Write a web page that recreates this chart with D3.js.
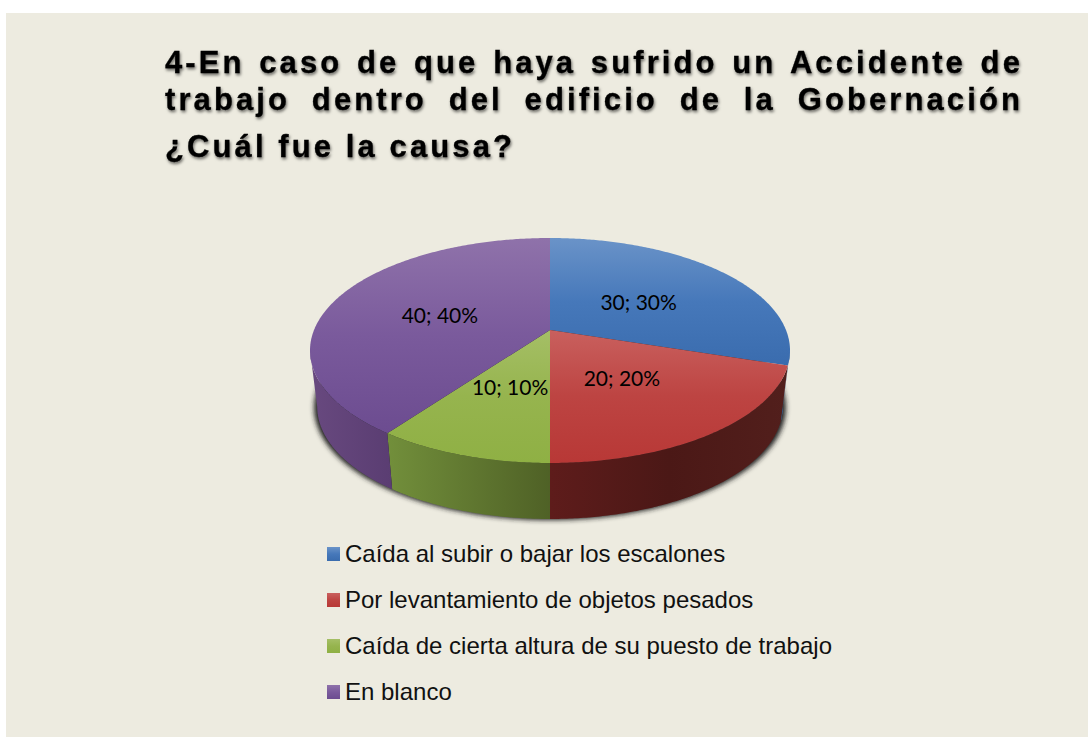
<!DOCTYPE html>
<html>
<head>
<meta charset="utf-8">
<script src="https://cdnjs.cloudflare.com/ajax/libs/d3/7.8.5/d3.min.js"></script>
<style>
html, body { margin: 0; padding: 0; background: #fff; overflow: hidden; }
svg { display: block; }
</style>
</head>
<body>
<div id="chart"></div>
<script>
const categories = [
  "Caída al subir o bajar los escalones",
  "Por levantamiento de objetos pesados",
  "Caída de cierta altura de su puesto de trabajo",
  "En blanco"
];
const values = [30, 20, 10, 40];
const percents = [30, 20, 10, 40];
const titleLines = [
  "4-En caso de que haya sufrido un Accidente de",
  "trabajo dentro del edificio de la Gobernación",
  "¿Cuál fue la causa?"
];
const topColors = [
  ["#6a93c8", "#4678ba", "#3a6cae"],
  ["#c9605e", "#bd4442", "#b83836"],
  ["#a5bf66", "#96b44e", "#8fb044"],
  ["#8f72aa", "#7a5a9c", "#6c4c90"]
];
const wallColors = [["#3a6cae", "#2c5488"], ["#5e1c1b", "#4b1816", "#521f1c"], ["#728f3b", "#4f6126"], ["#68497f", "#5a3d72"]];

const width = 1088, height = 737;

const svg = d3.select("#chart").append("svg")
  .attr("width", width).attr("height", height);
const defs = svg.append("defs");

svg.append("rect").attr("x", 6).attr("y", 13)
  .attr("width", width - 6).attr("height", height - 13)
  .attr("fill", "#edebe0");

// title, justified by hand with word spacing
const titleShadow = defs.append("filter").attr("id", "titleShadow")
  .attr("x", "-5%").attr("y", "-30%").attr("width", "110%").attr("height", "170%");
titleShadow.append("feDropShadow").attr("dx", 1).attr("dy", 2)
  .attr("stdDeviation", 1.4).attr("flood-color", "#000").attr("flood-opacity", 0.55);

const titleY = [73, 110, 157];
const title = svg.selectAll(".title").data(titleLines).enter().append("text")
  .attr("class", "title")
  .attr("x", 165)
  .attr("y", (d, i) => titleY[i])
  .attr("filter", "url(#titleShadow)")
  .style("font-family", "'Liberation Sans', Arial, sans-serif")
  .style("font-weight", "bold")
  .style("font-size", "31px")
  .style("letter-spacing", "3.1px")
  .attr("fill", "#000")
  .attr("stroke", "#000")
  .attr("stroke-width", 0.3)
  .text(d => d);
title.each(function(d, i) {
  if (i == 2) return;
  const gaps = d.split(" ").length - 1;
  const extra = (1023 - 165 - this.getComputedTextLength()) / gaps;
  d3.select(this).style("word-spacing", extra + "px");
});

// the pie is a flat circle seen in perspective, so the apex sits above the ellipse centre
const cx = 550, apexY = 330, backY = 238, frontY = 463, maxRx = 240;
const p = (frontY + backY - 2 * apexY) / (frontY - backY);
const a = frontY * (1 - p) - apexY;
const w = maxRx * Math.sqrt(1 - p * p);
const wallDepth = 56, wallShrink = 0.97;

function project(angle) {
  const u = Math.sin(angle), v = -Math.cos(angle), k = 1 - p * v;
  return [cx + w * u / k, (a * v + apexY) / k];
}
function projectBottom(angle) {
  const pt = project(angle);
  return [cx + (pt[0] - cx) * wallShrink, pt[1] + wallDepth];
}
function arcAngles(a0, a1) {
  const n = Math.max(2, Math.ceil((a1 - a0) / 0.01));
  return d3.range(n + 1).map(i => a0 + (a1 - a0) * i / n);
}

const pie = d3.pie().sort(null).value(d => d);
const slices = pie(values);
const line = d3.line();

function gradient(id, stops, horizontal) {
  const g = defs.append("linearGradient").attr("id", id)
    .attr("x1", 0).attr("y1", 0)
    .attr("x2", horizontal ? 1 : 0).attr("y2", horizontal ? 0 : 1);
  stops.forEach((c, i) => {
    g.append("stop").attr("offset", i / (stops.length - 1)).attr("stop-color", c);
  });
}
topColors.forEach((c, i) => gradient("top" + i, c, false));
wallColors.forEach((c, i) => gradient("wall" + i, c, true));

// soft shadow under the pie, a little wider than the base
const blur = defs.append("filter").attr("id", "pieShadow")
  .attr("x", "-10%").attr("y", "-10%").attr("width", "120%").attr("height", "120%");
blur.append("feGaussianBlur").attr("stdDeviation", 2.5);
svg.append("path")
  .attr("d", line(arcAngles(0, 2 * Math.PI).map(t => {
    const b = projectBottom(t);
    return [cx + (b[0] - cx) * 1.013, b[1] + 1];
  })) + "Z")
  .attr("fill", "#222")
  .attr("filter", "url(#pieShadow)");

// walls: only the part of each slice between the two tangent points of the rim
const frontFrom = Math.acos(-p), frontTo = 2 * Math.PI - frontFrom;
slices.forEach((s, i) => {
  const a0 = Math.max(s.startAngle, frontFrom), a1 = Math.min(s.endAngle, frontTo);
  if (a1 <= a0) return;
  const angles = arcAngles(a0, a1);
  const pts = angles.map(project).concat(angles.slice().reverse().map(projectBottom));
  svg.append("path").attr("d", line(pts) + "Z").attr("fill", `url(#wall${i})`);
});

// top faces
slices.forEach((s, i) => {
  const pts = [[cx, apexY]].concat(arcAngles(s.startAngle, s.endAngle).map(project));
  svg.append("path").attr("d", line(pts) + "Z").attr("fill", `url(#top${i})`);
});

// data labels: slice mid angle at half radius, then nudged like the original
const labelNudge = [[-2, 3], [-3, 1], [0, 1], [-1, 2]];
svg.selectAll(".label").data(slices).enter().append("text")
  .attr("class", "label")
  .attr("transform", (d, i) => {
    const mid = (d.startAngle + d.endAngle) / 2;
    const u = Math.sin(mid) * 0.5, v = -Math.cos(mid) * 0.5, k = 1 - p * v;
    return `translate(${cx + w * u / k + labelNudge[i][0]},${(a * v + apexY) / k + labelNudge[i][1]})`;
  })
  .attr("text-anchor", "middle")
  .attr("dy", "0.35em")
  .style("font-family", "Lato, sans-serif")
  .style("font-size", "21px")
  .attr("fill", "#000")
  .text((d, i) => values[i] + "; " + percents[i] + "%");

// legend
const legendY = d3.scalePoint().domain(categories).range([554, 692]);
const legend = svg.selectAll(".legend").data(categories).enter().append("g")
  .attr("class", "legend")
  .attr("transform", d => `translate(327,${legendY(d)})`);
legend.append("rect").attr("y", -7).attr("width", 13).attr("height", 14)
  .attr("fill", (d, i) => `url(#top${i})`);
legend.append("text").attr("x", 18).attr("dy", "0.33em")
  .style("font-family", "'Liberation Sans', Arial, sans-serif")
  .style("font-size", "24px")
  .attr("fill", "#111")
  .text(d => d);
</script>
</body>
</html>
